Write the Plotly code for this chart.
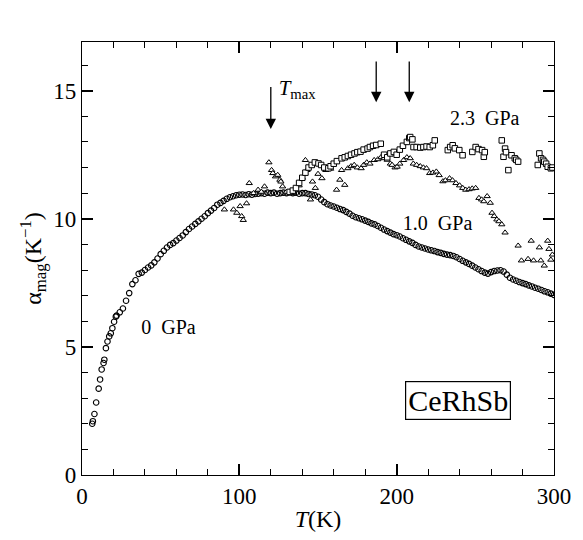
import plotly.graph_objects as go

# ---------------- data ----------------
# 0 GPa (open circles)
t0 = [6.5, 6.9, 7.9, 9.0, 10.6, 11.5, 12.5, 13.7, 14.2, 15.2, 16.2, 17.3, 18.3, 19.3, 20.4, 21.5,
      22, 24, 26, 28, 30, 32, 34, 36, 38, 40, 42, 44, 46, 48, 50, 52, 54, 56, 58, 60,
      62, 64, 66, 68, 70, 72, 74, 76, 78, 80, 82, 84, 86, 88, 90, 92, 94, 96, 98, 100,
      102, 104, 106, 108, 110, 112, 114, 116, 118, 120, 122, 124, 126, 128, 130, 132, 134, 136, 138, 140,
      142, 144, 146, 148, 150, 152, 154, 156, 158, 160, 162, 164, 166, 168, 170, 172, 174, 176, 178, 180,
      182, 184, 186, 188, 190, 192, 194, 196, 198, 200, 202, 204, 206, 208, 210, 212, 214, 216, 218, 220,
      222, 224, 226, 228, 230, 232, 234, 236, 238, 240, 242, 244, 246, 248, 250, 252, 254, 256, 258, 260,
      262, 264, 266, 268, 270, 272, 274, 276, 278, 280, 282, 284, 286, 288, 290, 292, 294, 296, 298, 300]
a0 = [2.0, 2.1, 2.38, 2.83, 3.37, 3.73, 4.12, 4.37, 4.5, 4.95, 5.21, 5.41, 5.53, 5.73, 5.98, 6.18,
      6.22, 6.35, 6.50, 6.80, 7.10, 7.45, 7.60, 7.85, 7.90, 8.00, 8.10, 8.18, 8.30, 8.45, 8.62, 8.75, 8.88, 8.98, 9.05, 9.15,
      9.25, 9.35, 9.48, 9.60, 9.70, 9.80, 9.90, 10.00, 10.10, 10.22, 10.32, 10.42, 10.55, 10.62, 10.70, 10.78, 10.84, 10.88, 10.92, 10.94,
      10.95, 10.93, 10.96, 10.94, 10.97, 10.98, 11.00, 10.98, 11.02, 11.00, 11.02, 10.98, 11.00, 11.02, 11.00, 11.03, 11.00, 11.02, 10.98, 11.00,
      11.00, 10.97, 10.95, 10.92, 10.86, 10.75, 10.65, 10.57, 10.52, 10.48, 10.43, 10.38, 10.34, 10.27, 10.20, 10.12, 10.06, 10.02, 9.98, 9.93,
      9.88, 9.82, 9.78, 9.72, 9.65, 9.58, 9.52, 9.46, 9.40, 9.36, 9.31, 9.24, 9.18, 9.12, 9.06, 8.98, 8.92, 8.88, 8.84, 8.80,
      8.77, 8.74, 8.70, 8.67, 8.63, 8.60, 8.58, 8.55, 8.50, 8.43, 8.36, 8.30, 8.24, 8.17, 8.10, 8.03, 7.96, 7.90, 7.86, 7.92,
      7.96, 7.98, 7.99, 7.94, 7.82, 7.70, 7.63, 7.58, 7.53, 7.49, 7.45, 7.40, 7.36, 7.31, 7.27, 7.22, 7.17, 7.13, 7.08, 7.03]

# 1.0 GPa (open triangles)
t1 = [90.5, 96.3, 98.4, 100.5, 101.5, 102.5, 104.6, 106.3, 109, 111.9, 114, 116, 118.8, 120.5, 121.3, 123,
      124.4, 125.8, 126.4, 127.5, 130, 133, 135.8, 138, 140, 142, 143, 145.2, 146.5, 148.3, 150, 152.5,
      155, 158, 161.8, 163.9, 165, 167, 169, 171, 173, 175, 177.4, 179, 181, 183, 185.7, 188, 190, 192,
      194, 196, 197.1, 199, 200.3, 202, 204.4, 206.5, 208.6, 210.6, 212.7, 215, 217, 219, 221, 223,
      225.2, 227, 229.4, 231, 233.6, 235.5, 237.7, 240, 242, 243.9, 246, 248, 250.2, 252.3, 254, 255.4,
      257.5, 259.5, 260.6, 262, 263.7, 265, 266.8, 268.9, 277.2, 279.3, 283.5, 285.5, 287, 290.7, 291.6,
      293.8, 296, 296.8, 298, 299]
a1 = [10.36, 10.36, 10.23, 10.49, 10.10, 9.95, 10.60, 11.39, 11.00, 11.13, 11.05, 11.26, 12.20, 11.90, 11.78, 11.65,
      11.71, 11.52, 11.45, 11.26, 11.05, 11.00, 11.13, 11.30, 11.60, 12.29, 11.90, 10.75, 11.45, 11.20, 11.75, 11.58,
      11.90, 11.95, 11.13, 11.52, 11.90, 11.32, 11.97, 12.05, 12.10, 12.00, 11.97, 12.10, 12.20, 12.15, 12.29, 12.32, 12.40, 12.36,
      12.30, 12.15, 12.10, 12.00, 12.03, 12.15, 12.29, 12.40, 12.36, 12.15, 12.10, 12.05, 12.00, 11.97, 11.78, 11.80,
      11.84, 11.70, 11.46, 11.50, 11.58, 11.50, 11.39, 11.30, 11.20, 11.13, 11.15, 11.18, 11.20, 10.81, 10.75, 10.68,
      10.88, 10.62, 10.23, 10.10, 9.97, 9.90, 9.78, 9.46, 8.95, 8.37, 8.43, 9.14, 8.37, 8.88, 8.37,
      8.17, 9.14, 8.82, 8.40, 8.60]

# 2.3 GPa (open squares)
t2 = [132, 134, 136, 138, 140, 142, 144, 146, 148, 150.3, 152, 154, 156.6, 158, 160, 162, 165, 167, 169, 171,
      173.2, 175, 177, 179, 181.5, 183, 185, 187, 189.9, 192, 194, 196, 198.2, 200, 202, 204, 206.5, 208, 208.6, 210,
      210.7, 212.7, 215, 217, 219, 221, 223, 224.2, 232.5, 234, 235.6, 237, 239.8, 241.9, 248.1, 250.2, 252, 254.3,
      255.4, 256, 266.8, 268.9, 267.9, 269.5, 271, 273, 275.1, 276, 277.2, 289.7, 290.7, 291.8, 293, 293.8, 295, 296,
      298, 299]
a2 = [11.05, 11.10, 11.20, 11.40, 11.60, 11.80, 12.00, 12.10, 12.20, 12.16, 12.10, 12.00, 11.97, 12.05, 12.15, 12.25, 12.36, 12.40, 12.45, 12.50,
      12.55, 12.60, 12.62, 12.70, 12.74, 12.80, 12.85, 12.88, 12.93, 12.50, 12.40, 12.55, 12.61, 12.50, 12.70, 12.85, 13.00, 13.15, 13.19, 13.10,
      12.80, 12.80, 12.78, 12.80, 12.82, 12.80, 12.87, 13.06, 12.68, 12.80, 12.87, 12.75, 12.68, 12.48, 12.61, 12.80, 12.72, 12.68,
      12.42, 12.60, 13.06, 12.74, 12.42, 12.60, 11.90, 12.48, 12.36, 12.30, 12.23, 12.10, 12.55, 12.36, 12.30, 12.23, 12.15, 12.03,
      11.97, 12.00]

# T_max arrow positions (K)
tmax_T = [120, 187, 208]

# text labels: (x, y, text, size, anchor)
labels = [
    (125, 15.05, "<i>T</i><sub>max</sub>", 21, "middle right"),
    (256, 13.85, "2.3\u00a0\u00a0GPa", 20, "middle center"),
    (226, 9.75, "1.0\u00a0\u00a0GPa", 20, "middle center"),
    (55, 5.7, "0\u00a0\u00a0GPa", 20, "middle center"),
    (1.5, 17.75, "×10<sup>−6</sup>", 22, "middle right"),
]

X_RANGE = [0, 300]
Y_RANGE = [0, 16.9]

# ---------------- figure ----------------
SERIF = "Liberation Serif"
fig = go.Figure()

mk = dict(color="white", line=dict(color="black", width=1.0))
fig.add_trace(go.Scatter(x=t0, y=a0, mode="markers", name="0 GPa",
                         marker=dict(symbol="circle-open", size=5.5, color="black", line=dict(width=1.1))))
fig.add_trace(go.Scatter(x=t1, y=a1, mode="markers", name="1.0 GPa",
                         marker=dict(symbol="triangle-up", size=5.5, **mk)))
fig.add_trace(go.Scatter(x=t2, y=a2, mode="markers", name="2.3 GPa",
                         marker=dict(symbol="square", size=5.5, **mk)))

for lx, ly, txt, sz, pos in labels:
    fig.add_trace(go.Scatter(x=[lx], y=[ly], mode="text", text=[txt], textposition=pos,
                             cliponaxis=False, hoverinfo="skip",
                             textfont=dict(family=SERIF, size=sz, color="black")))

annots = []
tips = [13.5, 14.55, 14.55]
tails = [15.2, 16.2, 16.2]
for tx, tip, tail in zip(tmax_T, tips, tails):
    annots.append(dict(x=tx, y=tip, ax=tx, ay=tail, xref="x", yref="y", axref="x", ayref="y",
                       text="", showarrow=True, arrowhead=2, arrowsize=1.6, arrowwidth=1.3,
                       arrowcolor="black"))
annots.append(dict(x=239, y=2.9, xref="x", yref="y", showarrow=False,
                   text="CeRhSb", font=dict(family=SERIF, size=30, color="black"),
                   bordercolor="black", borderwidth=1.2, borderpad=2))

axis_common = dict(showline=True, linecolor="black", linewidth=1.3, mirror="ticks",
                   ticks="inside", ticklen=11, tickwidth=1.5, tickcolor="black",
                   showgrid=False, zeroline=False, tickmode="linear", tick0=0,
                   tickfont=dict(family=SERIF, size=23, color="black"))

# the page body has an 8px margin, so the figure is 8px smaller than the window
fig.update_layout(
    width=575, height=532,
    margin=dict(l=74, r=20, t=34, b=60),
    paper_bgcolor="white", plot_bgcolor="white",
    showlegend=False,
    annotations=annots,
    xaxis=dict(range=X_RANGE, dtick=100,
               minor=dict(dtick=20, ticklen=6, tickcolor="black", ticks="inside", tickwidth=1.3),
               title=dict(text="<i>T</i>(K)", font=dict(family=SERIF, size=24, color="black"), standoff=2),
               **axis_common),
    yaxis=dict(range=Y_RANGE, dtick=5,
               minor=dict(dtick=1, ticklen=6, tickcolor="black", ticks="inside", tickwidth=1.3),
               title=dict(text="α<sub>mag</sub>(K<sup>−1</sup>)", font=dict(family=SERIF, size=24, color="black"),
                          standoff=4),
               **axis_common),
)

fig.write_html("out.html")
